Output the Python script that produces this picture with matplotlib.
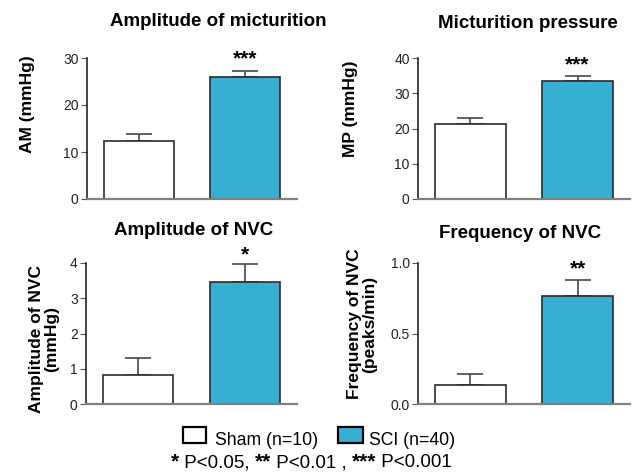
import matplotlib
matplotlib.use("Agg")
import matplotlib.pyplot as plt
from matplotlib.patches import Rectangle
from matplotlib.text import Annotation

plt.rcParams['font.family'] = ['Liberation Sans', 'DejaVu Sans']

groups = ["Sham (n=10)", "SCI (n=40)"]
colors = ["#FFFFFF", "#36AFD3"]

titles = ["Amplitude of micturition", "Micturition pressure", "Amplitude of NVC", "Frequency of NVC"]
ylabels = ["AM (mmHg)", "MP (mmHg)", "Amplitude of NVC\n(mmHg)", "Frequency of NVC\n(peaks/min)"]
means = [[12.3, 25.9], [21.4, 33.5], [0.82, 3.47], [0.135, 0.765]]
sems = [[1.6, 1.3], [1.7, 1.3], [0.48, 0.50], [0.075, 0.115]]
ymax = [30, 40, 4, 1.0]
yticks = [[0, 10, 20, 30], [0, 10, 20, 30, 40], [0, 1, 2, 3, 4], [0.0, 0.5, 1.0]]
yticklabels = [["0", "10", "20", "30"], ["0", "10", "20", "30", "40"],
               ["0", "1", "2", "3", "4"], ["0.0", "0.5", "1.0"]]
stars = ["***", "***", "*", "**"]

W, H = 636, 472
fig = plt.figure(figsize=(W / 100, H / 100), dpi=100)

# pixel boxes (left, right, top, bottom)
boxes = [(87, 297, 58, 199), (418, 630, 58, 199), (86, 297, 263, 404), (418, 630, 263, 404)]
title_xy = [(218, 22), (528, 23), (194, 231), (520, 233)]
ylab_xy = [(28, 104), (350, 109), (44, 339), (362, 324)]
star_off = [5, 4, 3, 4]

for i in range(4):
    l, r, t, b = boxes[i]
    ax = fig.add_axes([l / W, 1 - b / H, (r - l) / W, (b - t) / H])
    x = [0, 1]
    ax.bar(x, means[i], width=0.66, color=colors, edgecolor="#2a2a2a", linewidth=1.2, zorder=2)
    ax.errorbar(x, means[i], yerr=[[0, 0], sems[i]], fmt="none", ecolor="#555555",
                elinewidth=1.3, capsize=9.5, capthick=1.3, zorder=1)
    ax.set_xlim(-0.49, 1.49)
    ax.set_ylim(0, ymax[i])
    ax.set_yticks(yticks[i])
    ax.set_yticklabels(yticklabels[i], fontsize=10, color="#222222")
    ax.set_xticks([])
    for s in ["top", "right"]:
        ax.spines[s].set_visible(False)
    ax.spines["left"].set_color("#111111")
    ax.spines["left"].set_linewidth(1.1)
    ax.spines["bottom"].set_color("#808080")
    ax.spines["bottom"].set_linewidth(1.6)
    ax.tick_params(axis="y", length=4, width=0.8, color="#555555", pad=2)
    ax.annotate(stars[i], xy=(1, means[i][1] + sems[i][1]), xytext=(0, star_off[i]),
                textcoords="offset points", ha="center", va="baseline",
                fontsize=15, fontweight="bold", annotation_clip=False)
    fig.text(title_xy[i][0] / W, 1 - title_xy[i][1] / H, titles[i], ha="center", va="center",
             fontsize=13.5, fontweight="bold")
    fig.text(ylab_xy[i][0] / W, 1 - ylab_xy[i][1] / H, ylabels[i], ha="center", va="center",
             rotation=90, fontsize=12.5, fontweight="bold", linespacing=1.0)

# legend
legend_boxes = [(183, 206, 215), (338, 363, 369)]
for (x0, x1, tx), c, g in zip(legend_boxes, colors, groups):
    fig.patches.append(Rectangle((x0 / W, 1 - 443 / H), (x1 - x0) / W, 16 / H,
                                 transform=fig.transFigure, facecolor=c,
                                 edgecolor="black", linewidth=1.6))
    fig.text(tx / W, 1 - 445 / H, g, ha="left", va="baseline", fontsize=12.7)

# p-value note built from pieces
pieces = [("*", "bold", 15), (" P<0.05, ", "normal", 13.5), ("**", "bold", 15),
          (" P<0.01 , ", "normal", 13.5), ("***", "bold", 15), (" P<0.001", "normal", 13.5)]
ann = fig.text(171 / W, 1 - 467 / H, pieces[0][0], ha="left", va="baseline",
               fontsize=pieces[0][2], fontweight=pieces[0][1])
for txt, w, fs in pieces[1:]:
    ann = fig.add_artist(Annotation(txt, xy=(1, 0), xycoords=ann,
                                    xytext=(0, 0), textcoords="offset points",
                                    va="bottom", ha="left", fontsize=fs, fontweight=w))

fig.savefig("out.png", dpi=100)
